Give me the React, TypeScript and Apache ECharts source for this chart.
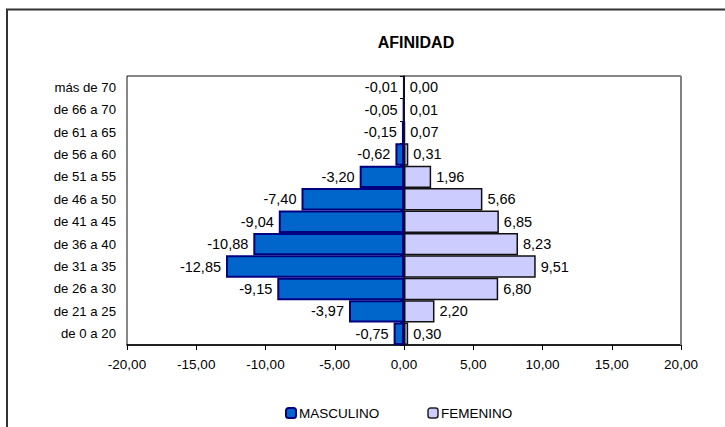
import React, { useEffect, useRef } from "react";
import * as echarts from "echarts";

const categories = [
  "de 0 a 20",
  "de 21 a 25",
  "de 26 a 30",
  "de 31 a 35",
  "de 36 a 40",
  "de 41 a 45",
  "de 46 a 50",
  "de 51 a 55",
  "de 56 a 60",
  "de 61 a 65",
  "de 66 a 70",
  "más de 70",
];
const masculino = [-0.75, -3.97, -9.15, -12.85, -10.88, -9.04, -7.4, -3.2, -0.62, -0.15, -0.05, -0.01];
const femenino = [0.3, 2.2, 6.8, 9.51, 8.23, 6.85, 5.66, 1.96, 0.31, 0.07, 0.01, 0.0];
const xMin = -20;
const xMax = 20;
const xStep = 5;

const fmt = (v: number) => v.toFixed(2).replace(".", ",");
const FONT = "Liberation Sans, Arial, sans-serif";

export default function App() {
  const ref = useRef<HTMLDivElement>(null);
  useEffect(() => {
    if (!ref.current) return;
    const chart = echarts.init(ref.current, undefined, { renderer: "svg" });
    chart.setOption({
      animation: false,
      backgroundColor: "#fff",
      textStyle: { fontFamily: FONT },
      title: {
        text: "AFINIDAD",
        left: 411,
        textAlign: "center",
        top: 29,
        textStyle: { fontFamily: FONT, fontSize: 16, fontWeight: "bold", color: "#000" },
      },
      graphic: [
        {
          type: "rect",
          silent: true,
          shape: { x: 7, y: 9.5, width: 800, height: 500 },
          style: { fill: "none", stroke: "#333", lineWidth: 2 },
          z: -1,
        },
        {
          type: "line",
          silent: true,
          shape: { x1: 681, y1: 76, x2: 681, y2: 345 },
          style: { stroke: "#808080", lineWidth: 2 },
          z: 10,
        },
      ],
      legend: {
        left: 280,
        top: 401,
        itemWidth: 10,
        itemHeight: 10,
        itemGap: 48,
        textStyle: { fontFamily: FONT, fontSize: 13.5, color: "#000", padding: [0, 0, 0, -2] },
        data: [
          { name: "MASCULINO", itemStyle: { color: "#0066CC", borderColor: "#000080", borderWidth: 2 } },
          { name: "FEMENINO", itemStyle: { color: "#CCCCFF", borderColor: "#222", borderWidth: 1.5 } },
        ],
      },
      grid: {
        left: 127,
        right: 44,
        top: 76,
        bottom: 82,
        show: true,
        borderColor: "#111",
        borderWidth: 1,
      },
      xAxis: {
        type: "value",
        min: xMin,
        max: xMax,
        interval: xStep,
        splitLine: { show: false },
        axisLine: { show: true, onZero: false, lineStyle: { color: "#000", width: 1.5 } },
        axisTick: { show: true, length: 5, lineStyle: { color: "#000" } },
        axisLabel: { formatter: fmt, fontFamily: FONT, fontSize: 13.5, color: "#000", margin: 12 },
      },
      yAxis: [
        {
          type: "category",
          data: categories,
          position: "left",
          axisLine: { show: false, onZero: false },
          axisTick: { show: false },
          axisLabel: { fontFamily: FONT, fontSize: 13.2, color: "#000", margin: 11 },
        },
        {
          type: "category",
          data: categories,
          position: "left",
          axisLine: { show: true, onZero: true, lineStyle: { color: "#000", width: 1.5 } },
          axisTick: { show: true, length: 4, lineStyle: { color: "#000" } },
          axisLabel: { show: false },
        },
      ],
      series: [
        {
          name: "MASCULINO",
          type: "bar",
          yAxisIndex: 0,
          data: masculino,
          barCategoryGap: "0%",
          barGap: "-100%",
          itemStyle: { color: "#0066CC", borderColor: "#000080", borderWidth: 2 },
          label: {
            show: true,
            position: "left",
            distance: 5,
            formatter: (p: any) => fmt(p.value),
            fontFamily: FONT,
            fontSize: 14.5,
            color: "#000",
          },
        },
        {
          name: "FEMENINO",
          type: "bar",
          yAxisIndex: 0,
          data: femenino,
          barCategoryGap: "0%",
          barGap: "-100%",
          itemStyle: { color: "#CCCCFF", borderColor: "#111", borderWidth: 1.5 },
          label: {
            show: true,
            position: "right",
            distance: 5,
            formatter: (p: any) => fmt(p.value),
            fontFamily: FONT,
            fontSize: 14.5,
            color: "#000",
          },
        },
      ],
    });
    return () => chart.dispose();
  }, []);
  return (
    <div
      ref={ref}
      style={{ position: "absolute", left: 0, top: 0, width: 725, height: 427 }}
    />
  );
}
